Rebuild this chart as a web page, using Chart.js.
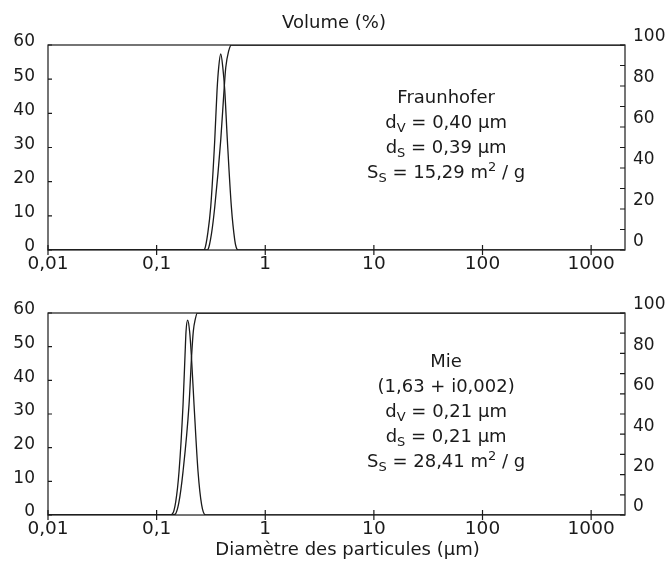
<!DOCTYPE html>
<html>
<head>
<meta charset="utf-8">
<script src="https://cdn.jsdelivr.net/npm/chart.js@4/dist/chart.umd.min.js"></script>
<style>
    html, body { margin: 0; padding: 0; background: #fff; }
    .box { position: absolute; left: 0; width: 668px; }
    #topBox { top: 0; height: 282px; }
    #bottomBox { top: 282px; height: 283px; }
</style>
</head>
<body>
<div class="box" id="topBox"><canvas id="fraunhoferChart"></canvas></div>
<div class="box" id="bottomBox"><canvas id="mieChart"></canvas></div>
<script>
// x axis (log) ticks
const xTickValues = [0.01, 0.1, 1, 10, 100, 1000];
const xTickLabels = ['0,01', '0,1', '1', '10', '100', '1000'];

// Fraunhofer: volume distribution (%) and cumulative volume (%)
const fraunhoferDiam = [0.01, 0.27, 0.2773, 0.296, 0.3149, 0.3428, 0.36, 0.3731, 0.3893, 0.4062, 0.4237, 0.4477, 0.4874, 0.5238, 0.54, 0.5617, 2000];
const fraunhoferVol  = [0, 0, 0.3, 5, 12.7, 32.2, 46.8, 53.6, 57.4, 53.6, 46.8, 32.2, 12.7, 2.9, 0.8, 0, 0];
const fraunhoferCumDiam = [0.01, 0.29, 0.2973, 0.32, 0.3428, 0.3893, 0.4175, 0.4329, 0.46, 0.4874, 2000];
const fraunhoferCum     = [0, 0, 0.3, 8, 21, 53.7, 78, 89, 97, 100, 100];

// Mie: volume distribution (%) and cumulative volume (%)
const mieDiam = [0.01, 0.13, 0.1395, 0.15, 0.1608, 0.175, 0.1826, 0.1865, 0.193, 0.2013, 0.2087, 0.2211, 0.2405, 0.2597, 0.2826, 2000];
const mieVol  = [0, 0, 0.3, 4, 12.9, 32.7, 47.5, 54.5, 57.9, 54.5, 47.5, 32.7, 12.9, 3, 0, 0];
const mieCumDiam = [0.01, 0.14, 0.1477, 0.16, 0.175, 0.1987, 0.21, 0.2177, 0.227, 0.2369, 2000];
const mieCum     = [0, 0, 0.3, 6, 21.5, 54.5, 79, 91, 97, 100, 100];

// text blocks: [text, 'n' | 'sub' | 'sup']
const fraunhoferNotes = [
    [['Fraunhofer', 'n']],
    [['d', 'n'], ['V', 'sub'], [' = 0,40 µm', 'n']],
    [['d', 'n'], ['S', 'sub'], [' = 0,39 µm', 'n']],
    [['S', 'n'], ['S', 'sub'], [' = 15,29 m', 'n'], ['2', 'sup'], [' / g', 'n']]
];
const mieNotes = [
    [['Mie', 'n']],
    [['(1,63 + i0,002)', 'n']],
    [['d', 'n'], ['V', 'sub'], [' = 0,21 µm', 'n']],
    [['d', 'n'], ['S', 'sub'], [' = 0,21 µm', 'n']],
    [['S', 'n'], ['S', 'sub'], [' = 28,41 m', 'n'], ['2', 'sup'], [' / g', 'n']]
];

const INK = '#1a1a1a';
const FAMILY = '"DejaVu Sans", sans-serif';
Chart.defaults.font.family = FAMILY;
Chart.defaults.font.size = 17;
Chart.defaults.color = INK;

function points(xs, ys) {
    return xs.map((x, i) => ({ x: x, y: ys[i] }));
}

function drawRich(ctx, segs, cx, cy) {
    const big = '18px ' + FAMILY, small = '13px ' + FAMILY;
    let total = 0;
    segs.forEach(s => { ctx.font = s[1] === 'n' ? big : small; total += ctx.measureText(s[0]).width; });
    let x = cx - total / 2;
    segs.forEach(s => {
        ctx.font = s[1] === 'n' ? big : small;
        const dy = s[1] === 'sub' ? 5 : (s[1] === 'sup' ? -6 : 0);
        ctx.fillText(s[0], x, cy + dy);
        x += ctx.measureText(s[0]).width;
    });
}

// frame, inward ticks and text blocks
const framePlugin = {
    id: 'frame',
    afterDatasetsDraw(chart, args, opts) {
        const { ctx, chartArea: a, scales } = chart;
        ctx.save();
        ctx.strokeStyle = INK;
        ctx.lineWidth = 1.2;
        ctx.strokeRect(a.left, a.top, a.right - a.left, a.bottom - a.top);
        ctx.beginPath();
        scales.y.ticks.forEach(t => {
            const py = scales.y.getPixelForValue(t.value);
            ctx.moveTo(a.left, py); ctx.lineTo(a.left + 4, py);
        });
        scales.y2.ticks.forEach(t => {
            const py = scales.y2.getPixelForValue(t.value);
            ctx.moveTo(a.right - 5, py); ctx.lineTo(a.right, py);
        });
        scales.x.ticks.forEach(t => {
            const px = scales.x.getPixelForValue(t.value);
            ctx.moveTo(px, a.bottom - 5); ctx.lineTo(px, a.bottom + 5);
        });
        ctx.stroke();

        ctx.fillStyle = INK;
        ctx.textBaseline = 'middle';
        const cx = a.left + (a.right - a.left) * 0.69;
        opts.notes.forEach((line, i) => drawRich(ctx, line, cx, a.top + opts.noteTop + i * 25.2));

        if (opts.xTitle) {
            ctx.font = '18px ' + FAMILY;
            ctx.textAlign = 'center';
            ctx.fillText(opts.xTitle, (a.left + a.right) / 2 + 11, a.bottom + 35);
        }
        ctx.restore();
    }
};

function makeConfig(diam, vol, cumDiam, cum, notes, noteTop, extra) {
    const line = {
        borderColor: INK,
        borderWidth: 1.3,
        pointRadius: 0,
        fill: false,
        cubicInterpolationMode: 'monotone'
    };
    return {
        type: 'line',
        data: {
            datasets: [
                Object.assign({ label: 'Volume', data: points(diam, vol), yAxisID: 'y' }, line),
                Object.assign({ label: 'Cumul', data: points(cumDiam, cum), yAxisID: 'y2' }, line)
            ]
        },
        options: {
            responsive: true,
            maintainAspectRatio: false,
            animation: false,
            layout: { autoPadding: false, padding: { top: extra.padTop, left: 0, right: 0, bottom: 0 } },
            plugins: {
                legend: { display: false },
                tooltip: { enabled: false },
                title: extra.title,
                frame: { notes: notes, noteTop: noteTop, xTitle: extra.xTitle }
            },
            scales: {
                x: {
                    type: 'logarithmic',
                    min: 0.01,
                    max: 2050,
                    afterBuildTicks: s => { s.ticks = xTickValues.map(v => ({ value: v })); },
                    afterFit: s => { s.height = extra.xHeight; },
                    ticks: { callback: (v, i) => xTickLabels[i], autoSkip: false, maxRotation: 0,
                             padding: 3, font: { size: 18.5 } },
                    grid: { display: false, drawTicks: false },
                    border: { display: false }
                },
                y: {
                    min: 0,
                    max: 60,
                    afterFit: s => { s.width = 48; },
                    ticks: { stepSize: 10, padding: 13, labelOffset: -3 },
                    grid: { display: false, drawTicks: false },
                    border: { display: false }
                },
                y2: {
                    position: 'right',
                    min: 0,
                    max: 100,
                    afterFit: s => { s.width = 43; },
                    ticks: { stepSize: 10, padding: 8, labelOffset: -8, autoSkip: false,
                             callback: v => (v % 20 === 0 ? String(v) : '') },
                    grid: { display: false, drawTicks: false },
                    border: { display: false }
                }
            }
        },
        plugins: [framePlugin]
    };
}

new Chart(document.getElementById('fraunhoferChart'),
    makeConfig(fraunhoferDiam, fraunhoferVol, fraunhoferCumDiam, fraunhoferCum, fraunhoferNotes, 53, {
        padTop: 0,
        xHeight: 32,
        title: { display: true, text: 'Volume (%)', font: { size: 18, weight: 'normal' },
                 padding: { top: 13, bottom: 10.4 } }
    }));

new Chart(document.getElementById('mieChart'),
    makeConfig(mieDiam, mieVol, mieCumDiam, mieCum, mieNotes, 49, {
        padTop: 31,
        xHeight: 50,
        title: { display: false },
        xTitle: 'Diamètre des particules (µm)'
    }));
</script>
</body>
</html>
